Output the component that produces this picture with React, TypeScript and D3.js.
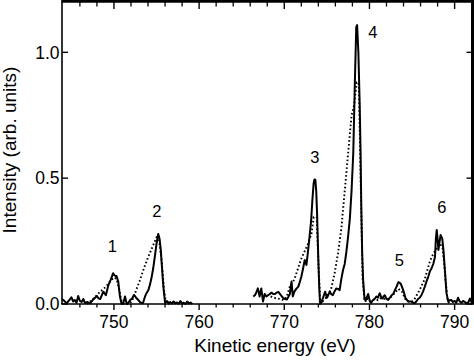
import React from "react";
import * as d3 from "d3";

// ---- data ----
const solidAEnergy = [743.9, 744.05, 744.45, 744.75, 745.0, 745.2, 745.4, 745.6, 745.8, 746.0, 746.2, 746.4, 746.6, 746.9, 747.2, 747.6, 748.0, 748.2, 748.4, 748.75, 749.05, 749.35, 749.6, 749.9, 750.1, 750.3, 750.5, 750.7, 750.9, 751.1, 751.3, 751.5, 751.7, 751.9, 752.1, 752.35, 752.6, 752.85, 753.1, 753.4, 753.65, 753.85, 754.05, 754.25, 754.4, 754.6, 754.8, 755.0, 755.2, 755.35, 755.5, 755.65, 755.8, 756.0, 756.2, 756.4, 756.6, 756.8, 757.0, 757.2, 757.4, 757.6, 757.8, 758.0, 758.2, 758.4, 758.6, 758.8, 759.0, 759.2];
const solidAIntensity = [0.02, 0.016, 0.003, 0.015, 0.027, 0.01, 0.016, 0.005, 0.032, 0.012, 0.008, 0.02, 0.004, 0.008, 0.002, 0.019, 0.032, 0.022, 0.02, 0.049, 0.035, 0.075, 0.095, 0.122, 0.112, 0.111, 0.09, 0.03, 0.0, 0.005, 0.03, 0.0, 0.005, 0.016, 0.02, 0.036, 0.025, 0.016, 0.006, 0.003, 0.03, 0.045, 0.056, 0.08, 0.102, 0.14, 0.188, 0.24, 0.278, 0.26, 0.215, 0.14, 0.069, 0.005, 0.012, 0.004, 0.008, 0.002, 0.01, 0.003, 0.006, 0.001, 0.012, 0.002, 0.005, 0.0, 0.01, 0.002, 0.006, 0.0];

const solidBEnergy = [766.35, 766.55, 766.7, 766.9, 767.1, 767.3, 767.5, 767.7, 767.9, 768.1, 768.3, 768.5, 768.7, 768.9, 769.1, 769.3, 769.6, 769.9, 770.1, 770.3, 770.5, 770.65, 770.85, 771.0, 771.2, 771.4, 771.65, 771.8, 772.0, 772.2, 772.4, 772.6, 772.8, 773.0, 773.15, 773.3, 773.45, 773.55, 773.65, 773.75, 773.85, 774.0, 774.1, 774.2, 774.4, 774.6, 774.8, 775.0, 775.1, 775.35, 775.5, 775.7, 775.9, 776.1, 776.3, 776.5, 776.7, 776.9, 777.1, 777.3, 777.5, 777.7, 777.9, 778.1, 778.3, 778.45, 778.55, 778.7, 778.85, 778.95, 779.05, 779.15, 779.25, 779.4, 779.55, 779.65, 779.85, 780.05, 780.2, 780.4, 780.6, 780.8, 781.0, 781.2, 781.35, 781.5, 781.65, 781.8, 782.0, 782.2, 782.4, 782.6, 782.8, 783.0, 783.2, 783.4, 783.65, 783.8, 783.95, 784.1, 784.25, 784.55, 784.9, 785.1, 785.3, 785.5, 785.7, 785.9, 786.1, 786.3, 786.5, 786.7, 786.9, 787.1, 787.3, 787.5, 787.7, 787.8, 787.9, 788.0, 788.1, 788.2, 788.35, 788.55, 788.7, 788.8, 788.95, 789.05, 789.25, 789.4, 789.6, 789.8, 790.0, 790.2, 790.4, 790.6, 790.8, 791.0, 791.2, 791.4, 791.6, 791.8, 792.0];
const solidBIntensity = [0.03, 0.035, 0.045, 0.062, 0.03, 0.062, 0.01, 0.04, 0.03, 0.035, 0.04, 0.045, 0.04, 0.04, 0.045, 0.048, 0.035, 0.022, 0.02, 0.018, 0.03, 0.04, 0.089, 0.03, 0.05, 0.06, 0.069, 0.085, 0.108, 0.14, 0.175, 0.155, 0.214, 0.28, 0.33, 0.413, 0.48, 0.495, 0.493, 0.45, 0.36, 0.175, 0.07, 0.0, 0.01, 0.03, 0.049, 0.025, 0.03, 0.05, 0.04, 0.035, 0.05, 0.062, 0.06, 0.055, 0.1, 0.135, 0.16, 0.21, 0.27, 0.34, 0.45, 0.6, 0.9, 1.1, 1.108, 1.0, 0.8, 0.62, 0.37, 0.2, 0.1, 0.03, 0.012, 0.022, 0.04, 0.01, 0.005, 0.015, 0.02, 0.03, 0.025, 0.043, 0.03, 0.022, 0.03, 0.035, 0.02, 0.016, 0.025, 0.035, 0.04, 0.056, 0.07, 0.087, 0.082, 0.07, 0.056, 0.04, 0.022, 0.01, 0.01, 0.005, 0.003, 0.01, 0.02, 0.025, 0.035, 0.05, 0.069, 0.09, 0.108, 0.13, 0.142, 0.16, 0.188, 0.26, 0.294, 0.26, 0.215, 0.24, 0.274, 0.26, 0.21, 0.162, 0.09, 0.043, 0.01, 0.015, 0.016, 0.008, 0.012, 0.005, 0.025, 0.01, 0.005, 0.012, 0.008, 0.003, 0.006, 0.022, 0.005];

const dottedAEnergy = [746.8, 747.2, 747.6, 748.0, 748.4, 748.8, 749.2, 749.6, 750.0, 750.3, 750.6, 750.9, 751.2, 751.7, 752.1, 752.5, 753.0, 753.5, 754.0, 754.5, 755.0, 755.3, 755.6, 755.9, 756.1, 756.5];
const dottedAIntensity = [0.0, 0.01, 0.022, 0.035, 0.05, 0.06, 0.075, 0.092, 0.105, 0.1, 0.06, 0.01, 0.0, 0.0, 0.01, 0.045, 0.09, 0.14, 0.185, 0.225, 0.265, 0.255, 0.17, 0.05, 0.005, 0.0];

const dottedBEnergy = [768.4, 768.8, 769.1, 769.5, 769.9, 770.3, 770.65, 771.05, 771.2, 771.6, 772.0, 772.4, 772.8, 773.2, 773.45, 773.8, 774.0, 774.2, 774.5, 774.9, 775.2, 775.5, 775.9, 776.3, 776.7, 777.1, 777.5, 777.9, 778.2, 778.5, 778.75, 778.9, 779.05, 779.2, 779.4, 779.8, 780.2, 780.6, 781.0, 781.4, 781.8, 782.2, 782.6, 783.0, 783.4, 783.8, 784.2, 784.6, 785.0, 785.3, 785.9, 786.5, 787.1, 787.5, 787.9, 788.3, 788.6, 788.8, 789.0, 789.2, 789.5];
const dottedBIntensity = [0.03, 0.025, 0.022, 0.02, 0.015, 0.03, 0.069, 0.09, 0.1, 0.14, 0.18, 0.21, 0.24, 0.28, 0.345, 0.345, 0.17, 0.02, 0.01, 0.025, 0.04, 0.06, 0.12, 0.2, 0.3, 0.45, 0.6, 0.75, 0.79, 0.88, 0.88, 0.62, 0.35, 0.1, 0.02, 0.02, 0.01, 0.02, 0.015, 0.025, 0.02, 0.02, 0.03, 0.045, 0.06, 0.05, 0.02, 0.01, 0.01, 0.02, 0.056, 0.1, 0.17, 0.2, 0.22, 0.24, 0.22, 0.15, 0.07, 0.01, 0.0];

const peakLabels = ["1", "2", "3", "4", "5", "6"];
const peakLabelEnergy = [749.8, 755.05, 773.6, 780.4, 783.5, 788.5];
const peakLabelIntensity = [0.207, 0.346, 0.56, 1.057, 0.151, 0.362];

const xMajorTicks = [750, 760, 770, 780, 790];
const xMinorTicks = [744, 746, 748, 752, 754, 756, 758, 762, 764, 766, 768, 772, 774, 776, 778, 782, 784, 786, 788, 792];
const yTicks = [0, 0.5, 1.0];
const yTickLabels = ["0.0", "0.5", "1.0"];

const xTitle = "Kinetic energy (eV)";
const yTitle = "Intensity (arb. units)";

const FONT = "'Liberation Sans', Arial, Helvetica, sans-serif";

export default function App() {
  const W = 474, H = 360;
  const x = d3.scaleLinear().domain([743.9, 792.1]).range([62, 472.5]);
  const y = d3.scaleLinear().domain([0, 1.2]).range([304, 2]);
  const line = d3.line<[number, number]>().x(d => x(d[0])).y(d => y(d[1]));
  const zip = (a: number[], b: number[]) => a.map((v, i) => [v, b[i]] as [number, number]);

  const [x0, x1] = x.range();
  const [yb, yt] = y.range();

  return (
    <svg width={W} height={H} style={{ position: "absolute", left: 0, top: 0, background: "#fff" }}>
      <rect x={0} y={0} width={W} height={H} fill="#fff" />
      {/* data */}
      <path d={line(zip(dottedAEnergy, dottedAIntensity)) || ""} fill="none" stroke="#000" strokeWidth={1.9} strokeDasharray="1.6 2.3" />
      <path d={line(zip(dottedBEnergy, dottedBIntensity)) || ""} fill="none" stroke="#000" strokeWidth={1.9} strokeDasharray="1.6 2.3" />
      <path d={line(zip(solidAEnergy, solidAIntensity)) || ""} fill="none" stroke="#000" strokeWidth={2} strokeLinejoin="round" />
      <path d={line(zip(solidBEnergy, solidBIntensity)) || ""} fill="none" stroke="#000" strokeWidth={2} strokeLinejoin="round" />

      {/* frame */}
      <line x1={x0} x2={x0} y1={yt} y2={yb} stroke="#000" strokeWidth={1.6} />
      <line x1={x0 - 0.8} x2={x1} y1={yb} y2={yb} stroke="#000" strokeWidth={1.6} />
      <line x1={x0 - 0.8} x2={x1 + 1.5} y1={yt - 0.6} y2={yt - 0.6} stroke="#000" strokeWidth={2.8} />
      <line x1={x1} x2={x1} y1={yt - 2} y2={yb + 0.8} stroke="#000" strokeWidth={3} />

      {/* x ticks */}
      {xMajorTicks.map(t => (
        <g key={"M" + t}>
          <line x1={x(t)} x2={x(t)} y1={yb} y2={yb + 6} stroke="#000" strokeWidth={1.4} />
          <line x1={x(t)} x2={x(t)} y1={yt} y2={yt + 7} stroke="#000" strokeWidth={1.4} />
          <text x={x(t)} y={328} textAnchor="middle" fontFamily={FONT} fontSize={17.5}>{t}</text>
        </g>
      ))}
      {xMinorTicks.filter(t => x(t) > x0 + 1 && x(t) < x1 - 1).map(t => (
        <g key={"m" + t}>
          <line x1={x(t)} x2={x(t)} y1={yb} y2={yb + 3.5} stroke="#000" strokeWidth={1.3} />
          <line x1={x(t)} x2={x(t)} y1={yt} y2={yt + 4.5} stroke="#000" strokeWidth={1.3} />
        </g>
      ))}

      {/* y ticks */}
      {yTicks.map((t, i) => (
        <g key={"y" + t}>
          <line x1={x0} x2={x0 + 6} y1={y(t)} y2={y(t)} stroke="#000" strokeWidth={1.4} />
          <line x1={x1} x2={x1 - 6} y1={y(t)} y2={y(t)} stroke="#000" strokeWidth={1.4} />
          <text x={59.5} y={y(t)} dy="0.36em" textAnchor="end" fontFamily={FONT} fontSize={17.5}>{yTickLabels[i]}</text>
        </g>
      ))}

      {/* peak labels */}
      {peakLabels.map((l, i) => (
        <text key={"p" + l} x={x(peakLabelEnergy[i])} y={y(peakLabelIntensity[i])} textAnchor="middle" fontFamily={FONT} fontSize={16.5}>{l}</text>
      ))}

      {/* titles */}
      <text x={275} y={352} textAnchor="middle" fontFamily={FONT} fontSize={19}>{xTitle}</text>
      <text transform="translate(15.5,150) rotate(-90)" textAnchor="middle" fontFamily={FONT} fontSize={19}>{yTitle}</text>
    </svg>
  );
}
